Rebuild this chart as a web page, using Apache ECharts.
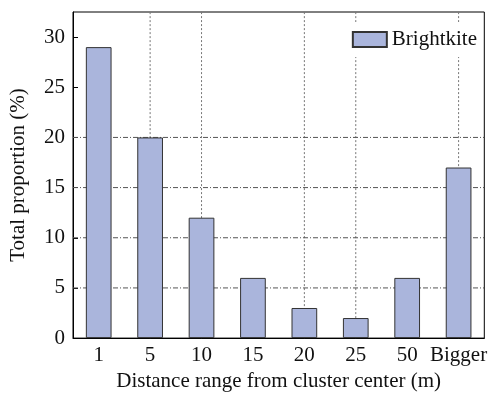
<!DOCTYPE html>
<html>
<head>
<meta charset="utf-8">
<script src="https://cdn.jsdelivr.net/npm/echarts@6/dist/echarts.min.js"></script>
<style>html,body{margin:0;padding:0;background:#fff}#c{width:490px;height:397px}</style>
</head>
<body>
<div id="c"></div>
<script>
const categories = ['1', '5', '10', '15', '20', '25', '50', 'Bigger'];
const brightkite = [29, 20, 12, 6, 3, 2, 6, 17];
const seriesName = 'Brightkite';
const xTitle = 'Distance range from cluster center (m)';
const yTitle = 'Total proportion (%)';
const yMax = 32.5;
// gridlines that are visible in the reference
const vGridCats = ['5', '10', '20', '25', 'Bigger'];
const hGridVals = [5, 10, 15, 20];

const font = 'Liberation Serif, Times New Roman, serif';
const chart = echarts.init(document.getElementById('c'));

function vLine(params, api) {
  const idx = api.value(0);
  const p0 = api.coord([idx, 0]);
  const p1 = api.coord([idx, yMax]);
  return { type: 'line', shape: { x1: p0[0], y1: p0[1], x2: p1[0], y2: p1[1] },
    style: { stroke: '#777', lineWidth: 1, lineDash: [2, 2] } };
}
function hLine(params, api) {
  const v = api.value(1);
  const p0 = api.coord([0, v]);
  const cs = params.coordSys;
  return { type: 'line', shape: { x1: cs.x, y1: p0[1], x2: cs.x + cs.width, y2: p0[1] },
    style: { stroke: '#555', lineWidth: 1, lineDash: [5, 2, 1, 2] } };
}

chart.setOption({
  animation: false,
  backgroundColor: '#fff',
  grid: { left: 71, right: 5, top: 12, bottom: 51, show: true, borderColor: '#000', borderWidth: 1 },
  legend: {
    data: [seriesName], right: 9, top: 22, padding: [7, 4, 7, 4], backgroundColor: '#fff',
    itemWidth: 34, itemHeight: 15, itemGap: 6, icon: 'rect',
    textStyle: { fontFamily: font, fontSize: 21, color: '#111' }
  },
  xAxis: {
    type: 'category', data: categories,
    name: xTitle, nameLocation: 'middle', nameGap: 32,
    nameTextStyle: { fontFamily: font, fontSize: 21, color: '#111' },
    axisLine: { lineStyle: { color: '#000', width: 1 } },
    axisTick: { inside: true, alignWithLabel: true, length: 5, lineStyle: { color: '#000' } },
    axisLabel: { interval: 0, fontFamily: font, fontSize: 21, color: '#111', margin: 7 },
    splitLine: { show: false }
  },
  yAxis: {
    type: 'value', min: 0, max: yMax, interval: 5,
    name: yTitle, nameLocation: 'middle', nameGap: 44,
    nameTextStyle: { fontFamily: font, fontSize: 21, color: '#111' },
    axisLine: { show: true, lineStyle: { color: '#000', width: 1 } },
    axisTick: { show: true, inside: true, length: 5, lineStyle: { color: '#000' } },
    axisLabel: { fontFamily: font, fontSize: 21, color: '#111', margin: 8, showMaxLabel: false },
    splitLine: { show: false }
  },
  series: [
    { name: 'vgrid', type: 'custom', z: 1, silent: true, renderItem: vLine,
      data: vGridCats.map(c => [categories.indexOf(c), 0]) },
    { name: 'hgrid', type: 'custom', z: 1, silent: true, renderItem: hLine,
      data: hGridVals.map(v => [0, v]) },
    {
      name: seriesName, type: 'bar', data: brightkite, barWidth: '50%', z: 3,
      itemStyle: { color: '#aab5dc', borderColor: '#333', borderWidth: 1 }
    }
  ]
});
</script>
</body>
</html>
